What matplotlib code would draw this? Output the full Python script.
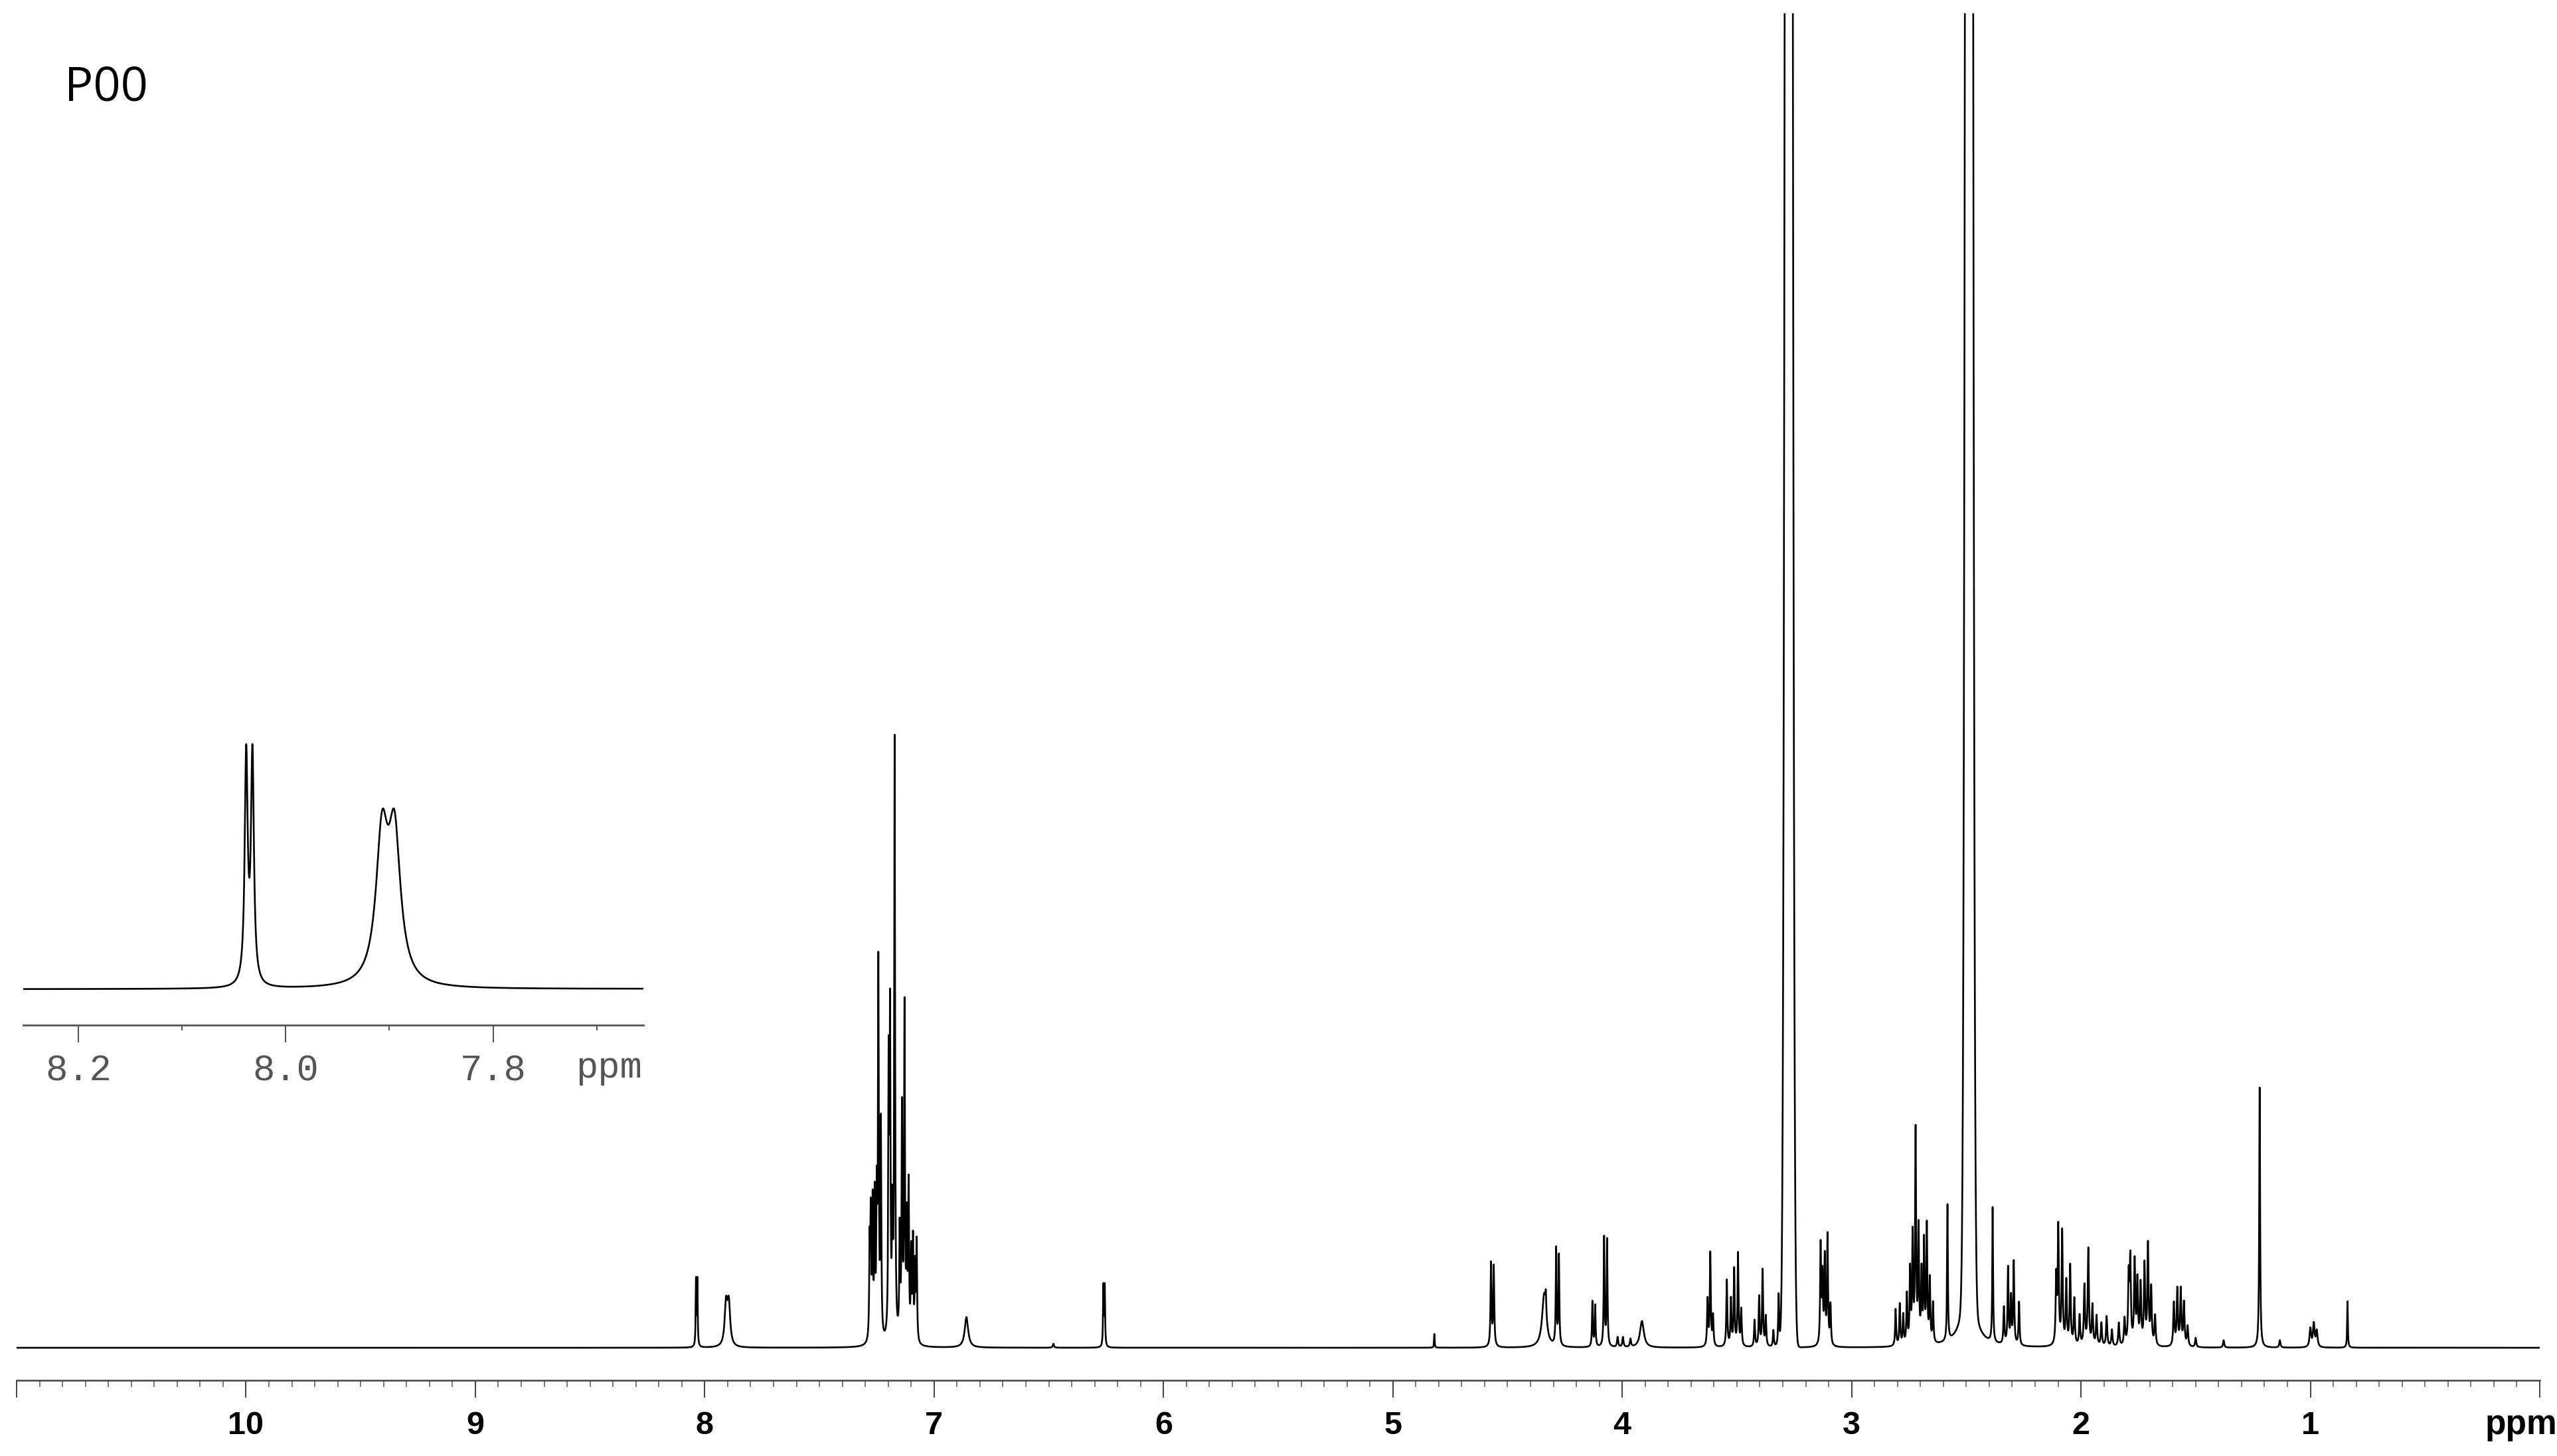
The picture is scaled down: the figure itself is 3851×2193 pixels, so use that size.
import numpy as np
import matplotlib
matplotlib.use('Agg')
import matplotlib.pyplot as plt
from matplotlib.ticker import MultipleLocator, FixedLocator

# peak list: shift (ppm), height (px above baseline), half width (ppm)
peak_ppm = [8.038, 8.032, 7.907, 7.895,
            7.281, 7.276, 7.268, 7.259, 7.250, 7.243, 7.232, 7.198, 7.192, 7.182,
            7.172, 7.150, 7.140, 7.129, 7.119, 7.111, 7.100, 7.092, 7.083, 7.076,
            6.859, 6.480, 6.262, 6.256,
            4.819, 4.572, 4.560, 4.340, 4.333, 4.288, 4.276, 4.130, 4.118, 4.079, 4.066,
            4.020, 3.997, 3.964, 3.914,
            3.628, 3.616, 3.604, 3.544, 3.526, 3.512, 3.495, 3.481, 3.423, 3.403, 3.388,
            3.374, 3.341, 3.318,
            3.135, 3.127, 3.117, 3.105, 3.092,
            2.808, 2.790, 2.775, 2.759, 2.745, 2.734, 2.721, 2.708, 2.695, 2.684, 2.672,
            2.659, 2.645, 2.582, 2.490, 2.385,
            2.336, 2.318, 2.305, 2.293, 2.270,
            2.108, 2.099, 2.082, 2.064, 2.047, 2.029, 2.006,
            1.985, 1.968, 1.950, 1.932, 1.911, 1.888, 1.865, 1.835, 1.810,
            1.792, 1.785, 1.766, 1.754, 1.740, 1.723, 1.708, 1.694, 1.677,
            1.595, 1.580, 1.565, 1.551, 1.535, 1.500, 1.378,
            1.221, 1.133, 1.000, 0.985, 0.972, 0.838]
peak_height = [99, 99, 62, 62,
               140, 180, 200, 210, 200, 560, 320, 400, 470, 170,
               900, 160, 340, 500, 170, 230, 130, 150, 110, 150,
               46, 6, 90, 90,
               21, 125, 120, 80, 30, 145, 135, 68, 62, 165, 160,
               15, 15, 12, 40,
               70, 140, 45, 100, 70, 115, 140, 55, 40, 75, 115,
               45, 25, 80,
               150, 100, 130, 165, 60,
               55, 62, 45, 75, 110, 160, 320, 170, 105, 150, 175,
               95, 60, 205, 110, 205,
               55, 115, 70, 125, 65,
               100, 175, 170, 95, 120, 70, 45,
               90, 145, 60, 45, 35, 45, 25, 35, 40,
               100, 125, 125, 95, 90, 120, 150, 85, 45,
               65, 85, 85, 65, 30, 14, 11,
               395, 11, 28, 35, 24, 70]
peak_width = [0.0017, 0.0017, 0.007, 0.007] + [0.0022] * 20 + \
             [0.009, 0.003, 0.0018, 0.0018,
              0.0015, 0.0025, 0.0025, 0.011, 0.002, 0.0022, 0.0022, 0.0022, 0.0022, 0.0022, 0.0022,
              0.003, 0.003, 0.003, 0.010] + [0.0025] * 14 + [0.0025] * 5 + \
             [0.0025] * 13 + [0.002, 0.03, 0.002] + [0.0025] * 5 + [0.0028] * 7 + \
             [0.003] * 9 + [0.003] * 9 + [0.003] * 5 + [0.003, 0.003] + \
             [0.0022, 0.003, 0.004, 0.004, 0.004, 0.0018]

# off-scale solvent lines (water, DMSO)
solvent_ppm = [3.274, 2.488]
solvent_height = [8700, 8700]
solvent_width = [0.0105, 0.0105]

inset_scale = 3.46


def spectrum(x):
    y = np.zeros_like(x)
    for p, h, w in zip(peak_ppm, peak_height, peak_width):
        y += h / (1 + ((x - p) / w) ** 2)
    for p, h, w in zip(solvent_ppm, solvent_height, solvent_width):
        y += h * np.exp(-((x - p) ** 2) / (2 * w ** 2))
    return y


W, H = 3851, 2193
fig = plt.figure(figsize=(W / 100, H / 100), dpi=100)

# main spectrum
ax = fig.add_axes([25 / W, 1 - 2079 / H, 3800 / W, (2079 - 20) / H])
x = np.arange(0, 11.0001, 0.0004)
ax.plot(x, spectrum(x), color='black', lw=1.9)
ax.set_xlim(11, 0)
ax.set_ylim(-49, 2010)
for s in ['top', 'left', 'right']:
    ax.spines[s].set_visible(False)
ax.spines['bottom'].set_linewidth(1.8)
ax.spines['bottom'].set_color('#444444')
ax.set_yticks([])
ax.xaxis.set_major_locator(FixedLocator(range(0, 12)))
ax.xaxis.set_minor_locator(MultipleLocator(0.1))
ax.set_xticklabels(['' if v in (0, 11) else str(v) for v in range(0, 12)],
                   fontsize=35, fontweight='bold', family='Liberation Sans')
ax.tick_params(axis='x', which='major', length=19, width=1.3, color='#333333', pad=14)
ax.tick_params(axis='x', which='minor', length=7, width=1.1, color='#555555')
ax.text(0.08, -81 / 2059, 'ppm', transform=ax.get_xaxis_transform(), ha='center', va='baseline',
        fontsize=37, fontweight='bold', family='Liberation Sans')

# inset around 8 ppm
ins = fig.add_axes([35 / W, 1 - 1544 / H, 934 / W, 444 / H])
ins.patch.set_alpha(0)
xi = np.arange(7.65, 8.2601, 0.0001)
ins.plot(xi, spectrum(xi) * inset_scale, color='black', lw=1.9)
ins.set_xlim(8.253, 7.655)
ins.set_ylim(-54, 390)
for s in ['top', 'left', 'right']:
    ins.spines[s].set_visible(False)
ins.spines['bottom'].set_linewidth(2)
ins.spines['bottom'].set_color('#555555')
ins.set_yticks([])
ins.xaxis.set_major_locator(FixedLocator([8.2, 8.0, 7.8]))
ins.xaxis.set_minor_locator(FixedLocator([8.1, 7.9, 7.7]))
ins.set_xticklabels(['8.2', '8.0', '7.8'], fontsize=40, family='Liberation Mono', color='#555555')
ins.tick_params(axis='x', which='major', length=19, width=1.5, color='#555555', pad=12)
ins.tick_params(axis='x', which='minor', length=6, width=1.5, color='#555555')
ins.text(7.688, -79 / 444, 'ppm', transform=ins.get_xaxis_transform(), ha='center', va='baseline',
         fontsize=40, family='Liberation Mono', color='#555555')

fig.text(97 / W, 1 - 151 / H, 'P00', fontsize=52, family='Open Sans', va='baseline')

fig.savefig('out.png', dpi=100)
